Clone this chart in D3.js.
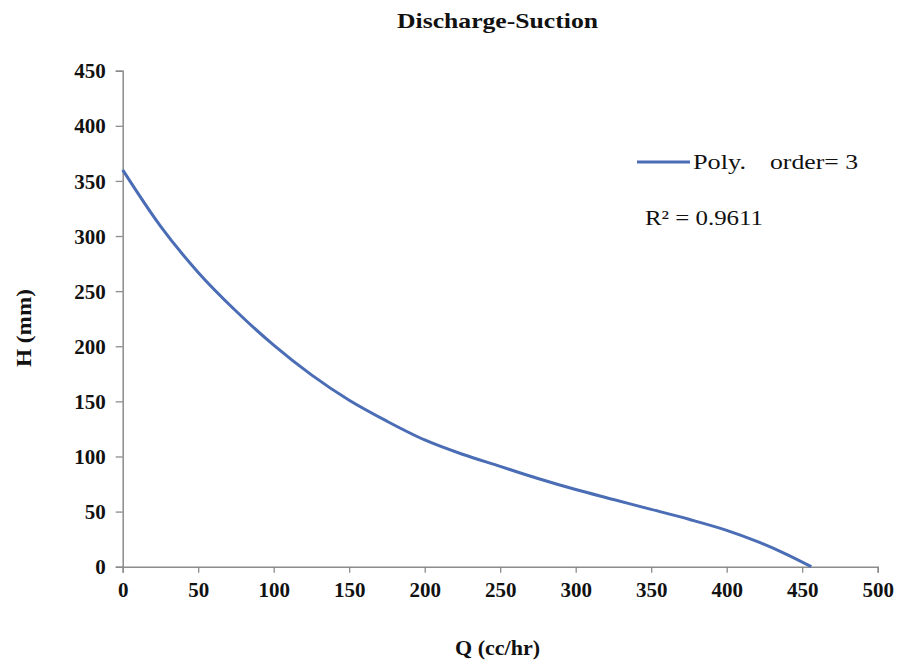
<!DOCTYPE html>
<html>
<head>
<script src="https://d3js.org/d3.v7.min.js"></script>
<style>
  body { margin: 0; background: #fff; }
  svg { font-family: "Liberation Serif", "Times New Roman", serif; }
</style>
</head>
<body>
<svg width="898" height="661"></svg>
<script>
// values
const flow = [0, 25, 50, 75, 100, 125, 150, 175, 200, 225, 250, 275, 300, 325, 350, 375, 400, 420, 440, 456];
const head = [360, 309, 267, 232, 201, 174, 151, 132, 115, 102, 91, 80, 70, 61, 52, 43, 33, 23, 11, 0];
const xTicks = [0, 50, 100, 150, 200, 250, 300, 350, 400, 450, 500];
const yTicks = [0, 50, 100, 150, 200, 250, 300, 350, 400, 450];

const svg = d3.select('svg');
const x = d3.scaleLinear().domain([0, 500]).range([122.7, 877.7]);
const y = d3.scaleLinear().domain([0, 450]).range([566.7, 70.7]);
const blue = '#4a6db5';

// y axis
const ya = svg.append('g')
  .attr('transform', 'translate(122.7,0)')
  .call(d3.axisLeft(y).tickValues(yTicks).tickSize(7).tickPadding(10));
// x axis
const xa = svg.append('g')
  .attr('transform', 'translate(0,566.7)')
  .call(d3.axisBottom(x).tickValues(xTicks).tickSize(6).tickPadding(9));

[ya, xa].forEach(a => {
  a.select('.domain').attr('stroke', '#8c8c8c').attr('stroke-width', 1.5);
  a.selectAll('.tick line').attr('stroke', '#8c8c8c').attr('stroke-width', 1.3);
  a.selectAll('.tick text')
    .attr('fill', '#111')
    .style('font-family', '"Liberation Serif", serif')
    .style('font-weight', 'bold')
    .style('font-size', '21px');
});
ya.selectAll('.tick text').attr('dy', '0.34em');

// curve
const pts = flow.map((q, i) => [q, head[i]]);
svg.append('path')
  .datum(pts)
  .attr('fill', 'none')
  .attr('stroke', blue)
  .attr('stroke-width', 3)
  .attr('d', d3.line().x(d => x(d[0])).y(d => y(d[1])).curve(d3.curveMonotoneX));

// titles
svg.append('text')
  .attr('x', 397).attr('y', 28)
  .attr('textLength', 201).attr('lengthAdjust', 'spacingAndGlyphs')
  .style('font-weight', 'bold').style('font-size', '21px')
  .attr('fill', '#111')
  .text('Discharge-Suction');

svg.append('text')
  .attr('x', 455).attr('y', 655)
  .attr('textLength', 85).attr('lengthAdjust', 'spacingAndGlyphs')
  .style('font-weight', 'bold').style('font-size', '22px')
  .attr('fill', '#111')
  .text('Q (cc/hr)');

svg.append('text')
  .attr('transform', 'translate(31,367) rotate(-90)')
  .attr('textLength', 78).attr('lengthAdjust', 'spacingAndGlyphs')
  .style('font-weight', 'bold').style('font-size', '22px')
  .attr('fill', '#111')
  .text('H (mm)');

// legend
svg.append('line')
  .attr('x1', 637).attr('x2', 690).attr('y1', 162).attr('y2', 162)
  .attr('stroke', blue).attr('stroke-width', 3);
svg.append('text')
  .attr('x', 693).attr('y', 169)
  .attr('textLength', 53).attr('lengthAdjust', 'spacingAndGlyphs')
  .style('font-size', '21px').attr('fill', '#111')
  .text('Poly.');
svg.append('text')
  .attr('x', 770).attr('y', 169)
  .attr('textLength', 88).attr('lengthAdjust', 'spacingAndGlyphs')
  .style('font-size', '21px').attr('fill', '#111')
  .text('order= 3');
svg.append('text')
  .attr('x', 645).attr('y', 225)
  .attr('textLength', 118).attr('lengthAdjust', 'spacingAndGlyphs')
  .style('font-size', '21px').attr('fill', '#111')
  .text('R² = 0.9611');
</script>
</body>
</html>
